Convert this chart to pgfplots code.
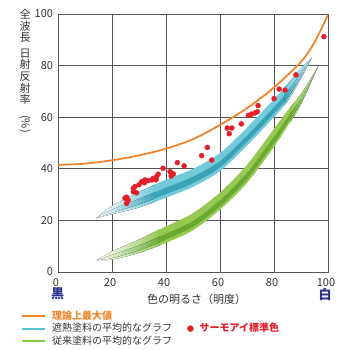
\documentclass[border=0pt]{standalone}
\usepackage{fontspec}
\setmainfont{Noto Sans CJK JP}
\usepackage{pgfplots}
\pgfplotsset{compat=1.18}
\usepgfplotslibrary{fillbetween}
\definecolor{orangec}{HTML}{F0852D}
\definecolor{bluec}{HTML}{72CADB}
\definecolor{bluedk}{HTML}{3BA2B7}
\definecolor{bluelg}{HTML}{5BC5D5}
\definecolor{greenc}{HTML}{95C952}
\definecolor{greendk}{HTML}{68AA32}
\definecolor{greenlg}{HTML}{8DC63F}
\definecolor{redc}{HTML}{E3202A}
\definecolor{navyc}{HTML}{2B2F8F}
\definecolor{gridc}{HTML}{555555}
\definecolor{tickc}{HTML}{333333}
\begin{document}
\begin{tikzpicture}[x=1pt,y=1pt]
\begin{axis}[
  at={(58pt,78pt)}, anchor=south west,
  scale only axis, width=270pt, height=258pt,
  xmin=0, xmax=100, ymin=0, ymax=100,
  xtick={0,20,...,100}, ytick={0,20,...,100},
  grid=major, major grid style={draw=gridc, line width=0.8pt},
  axis line style={draw=gridc, line width=0.8pt},
  major tick length=0pt,
  tick label style={font=\fontsize{11}{13}\selectfont, text=tickc},
  /pgf/number format/assume math mode=true,
  xticklabel style={yshift=-2.5pt, xshift=-2pt},
  yticklabel style={xshift=-1.5pt},
  legend style={at={(axis description cs:0,0)}, anchor=north west,
    xshift=-37pt, yshift=-38pt, draw=none, fill=none, inner sep=0pt,
    font=\fontsize{10}{12}\selectfont, text=tickc,
    legend columns=2, row sep=0pt,
    nodes={inner sep=1pt, text height=8.3pt, text depth=2pt},
    /tikz/every even column/.append style={column sep=14pt},
    /tikz/every odd column/.append style={column sep=5pt}},
  legend cell align=left,
]
% blue band
\addplot[name path=BU, draw=none, smooth, forget plot] coordinates {(14,20.8)(20,25.6)(30,31)(40,35.8)(50,40)(60,46.1)(70,56)(80,67)(85,72.8)(90,79)(94,83)};
\addplot[name path=BL, draw=none, smooth, forget plot] coordinates {(14,20.8)(20,22.4)(30,25)(40,28.8)(50,33)(60,39.1)(70,49)(80,60)(85,66.2)(90,75)(94,83)};
\addplot[name path=BIU, draw=none, smooth, forget plot] coordinates {(14,20.8)(20,24.2)(30,28.3)(40,32.7)(50,36.9)(60,43)(70,52.9)(80,63.9)(85,69.8)(90,77.2)(94,83)};
\addplot[name path=BIL, draw=none, smooth, forget plot] coordinates {(14,20.8)(20,23)(30,26.2)(40,30.2)(50,34.4)(60,40.5)(70,50.4)(80,61.4)(85,67.5)(90,75.8)(94,83)};
\addplot[forget plot, left color=white, right color=bluec] fill between[of=BU and BL, soft clip={domain=10:36}];
\addplot[forget plot, fill=bluec] fill between[of=BU and BL, soft clip={domain=35.6:84.4}];
\addplot[forget plot, left color=bluec, right color=bluec!35] fill between[of=BU and BL, soft clip={domain=84:100}];
\addplot[forget plot, left color=white, right color=bluedk] fill between[of=BIU and BIL, soft clip={domain=10:36}];
\addplot[forget plot, fill=bluedk] fill between[of=BIU and BIL, soft clip={domain=35.6:84.4}];
\addplot[forget plot, left color=bluedk, right color=bluec!35] fill between[of=BIU and BIL, soft clip={domain=84:100}];
% green band
\addplot[name path=GU, draw=none, smooth, forget plot] coordinates {(14.3,4.6)(20,8)(30,12.6)(40,17.7)(50,22.8)(60,30.8)(70,41.5)(80,55.5)(85,62.5)(90,69)(96.5,80)};
\addplot[name path=GL, draw=none, smooth, forget plot] coordinates {(14.3,4.6)(20,4.8)(30,7.4)(40,11.3)(50,16.2)(60,24.2)(70,34.5)(80,48.5)(85,56.5)(90,65)(96.5,80)};
\addplot[name path=GIU, draw=none, smooth, forget plot] coordinates {(14.3,4.6)(20,6.6)(30,10.3)(40,14.8)(50,19.8)(60,27.8)(70,38.4)(80,52.4)(85,59.8)(90,67.2)(96.5,80)};
\addplot[name path=GIL, draw=none, smooth, forget plot] coordinates {(14.3,4.6)(20,5.4)(30,8.4)(40,12.6)(50,17.5)(60,25.5)(70,35.9)(80,49.9)(85,57.7)(90,65.8)(96.5,80)};
\addplot[forget plot, left color=white, right color=greenc] fill between[of=GU and GL, soft clip={domain=10:38}];
\addplot[forget plot, fill=greenc] fill between[of=GU and GL, soft clip={domain=37.6:86.4}];
\addplot[forget plot, left color=greenc, right color=greenc!35] fill between[of=GU and GL, soft clip={domain=86:100}];
\addplot[forget plot, left color=white, right color=greendk] fill between[of=GIU and GIL, soft clip={domain=10:38}];
\addplot[forget plot, fill=greendk] fill between[of=GIU and GIL, soft clip={domain=37.6:86.4}];
\addplot[forget plot, left color=greendk, right color=greenc!35] fill between[of=GIU and GIL, soft clip={domain=86:100}];
% theoretical max
\addplot[orangec, line width=1.8pt, smooth, forget plot] coordinates {(0,41.5)(10,42)(20,43.3)(30,45.2)(40,47.8)(50,51.5)(60,57)(70,63.5)(80,71.5)(90,81.5)(95,89)(100,99.7)};
% standard colours
\addplot[only marks, mark=*, mark size=2.5pt, color=redc, forget plot] coordinates {
(24.8,28.6)(25.4,26.6)(26,27.9)(25.4,29)(27.9,31.1)(29.1,30.7)(27.9,32.4)(28.5,33.1)(30,33.8)(31,35)(32,34.6)(32.2,35.7)(33.4,35.4)(34.7,35.7)(35.3,36.3)(36.3,35.7)(36.5,36.9)(37.1,37.9)(38.9,40.2)(41.5,38.9)(41.9,37.2)(42.7,38)(44.2,42.4)(46.7,41.1)(53.2,45.1)(55.3,48.3)(56.9,43.4)(62.7,55.8)(64.4,55.8)(63.4,53.6)(67.9,57.4)(70.5,60.7)(71.7,61.2)(73,61.7)(73.8,62.1)(74.1,64.5)(80,67.2)(81.9,70.9)(84.1,70.5)(88.1,76.4)(98.5,91.2)};
% legend
\addlegendimage{legend image code/.code={\draw[orangec, line width=2pt] (0pt,0pt) -- (23pt,0pt);}}
\addlegendentry{\textcolor{orangec}{\bfseries 理論上最大値}}
\addlegendimage{empty legend}
\addlegendentry{}
\addlegendimage{legend image code/.code={\draw[bluelg, line width=2pt] (0pt,0pt) -- (23pt,0pt);}}
\addlegendentry{遮熱塗料の平均的なグラフ}
\addlegendimage{legend image code/.code={\fill[redc] (3pt,0pt) circle (3pt);}}
\addlegendentry{\textcolor{redc}{\bfseries サーモアイ標準色}}
\addlegendimage{legend image code/.code={\draw[greenlg, line width=2pt] (0pt,0pt) -- (23pt,0pt);}}
\addlegendentry{従来塗料の平均的なグラフ}
\end{axis}
\node[anchor=north, align=center, font=\fontsize{11}{11.6}\selectfont, text=tickc, inner sep=0pt] at (25,341) {全\\波\\長\\[4pt]日\\射\\反\\射\\率\\\rotatebox{-90}{(\%)}};
\node[font=\fontsize{11}{13}\selectfont, text=tickc] at (196.5,51) {色の明るさ（明度）};
\node[font=\fontsize{13}{15}\selectfont\bfseries, text=navyc] at (57.5,56) {黒};
\node[font=\fontsize{13}{15}\selectfont\bfseries, text=navyc] at (325,55) {白};
\pgfresetboundingbox
\path[use as bounding box] (0,0) rectangle (350,350);
\end{tikzpicture}
\end{document}
